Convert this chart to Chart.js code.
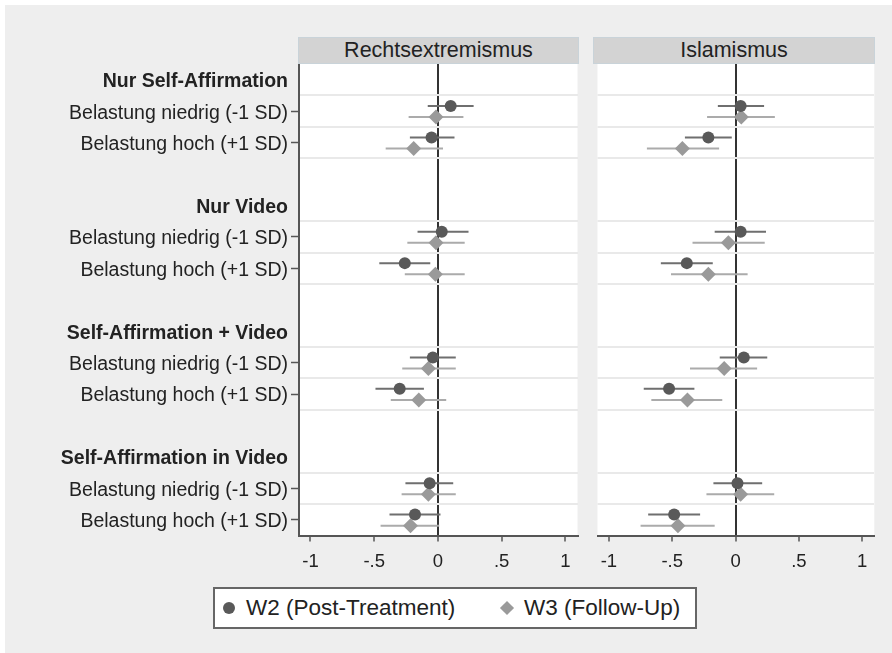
<!DOCTYPE html>
<html>
<head>
<meta charset="utf-8">
<script src="https://cdn.jsdelivr.net/npm/chart.js@4.4.1/dist/chart.umd.min.js"></script>
<style>
  html,body{margin:0;padding:0;background:#ffffff;}
  #frame{position:absolute;left:5px;top:5px;width:887px;height:648px;background:#eeeeee;}
  canvas{position:absolute;}
  .hdr{position:absolute;top:37px;height:25px;background:#d3d3d3;border:1px solid #c9d3d9;
       font-family:"Liberation Sans",Arial,sans-serif;font-size:21.5px;color:#222;text-align:center;line-height:25px;}
  #legend{position:absolute;left:213px;top:587px;width:480px;height:38px;background:#fff;border:2px solid #666;
       font-family:"Liberation Sans",Arial,sans-serif;font-size:22.5px;color:#222;}
  #legend span{position:absolute;top:6px;white-space:nowrap;}
  .dot{position:absolute;left:8px;top:13px;width:12px;height:12px;border-radius:50%;background:#595959;}
  .dia{position:absolute;left:287px;top:14px;width:10px;height:10px;background:#9a9a9a;transform:rotate(45deg);}
</style>
</head>
<body>
<div id="frame"></div>
<canvas id="c1" width="585" height="580" style="left:0;top:0;width:585px;height:580px;"></canvas>
<canvas id="c2" width="295" height="580" style="left:590px;top:0;width:295px;height:580px;"></canvas>
<div class="hdr" style="left:298px;width:279px;">Rechtsextremismus</div>
<div class="hdr" style="left:593px;width:280px;">Islamismus</div>
<div id="legend">
  <div class="dot"></div><span style="left:31px;">W2 (Post-Treatment)</span>
  <div class="dia"></div><span style="left:309px;">W3 (Follow-Up)</span>
</div>
<script>
// ---- data ----
const groups = ['Nur Self-Affirmation','Nur Video','Self-Affirmation + Video','Self-Affirmation in Video'];
const levels = ['Belastung niedrig (-1 SD)','Belastung hoch (+1 SD)'];
const panels = ['Rechtsextremismus','Islamismus'];
const seriesNames = ['W2 (Post-Treatment)','W3 (Follow-Up)'];
const xTickValues = [-1,-0.5,0,0.5,1];
const xTickLabels = ['-1','-.5','0','.5','1'];

// order: group x level (SA niedrig, SA hoch, Video niedrig, Video hoch, ...)
const rex_w2    = [0.10, -0.05, 0.03, -0.26, -0.04, -0.30, -0.065, -0.18];
const rex_w2_lo = [-0.08, -0.22, -0.16, -0.46, -0.22, -0.49, -0.255, -0.38];
const rex_w2_hi = [0.28, 0.13, 0.24, -0.06, 0.14, -0.11, 0.12, 0.02];
const rex_w3    = [-0.015, -0.19, -0.015, -0.02, -0.075, -0.15, -0.075, -0.215];
const rex_w3_lo = [-0.23, -0.41, -0.24, -0.26, -0.28, -0.37, -0.285, -0.45];
const rex_w3_hi = [0.20, 0.04, 0.21, 0.21, 0.14, 0.065, 0.14, 0.01];

const isl_w2    = [0.04, -0.215, 0.04, -0.385, 0.065, -0.525, 0.015, -0.485];
const isl_w2_lo = [-0.14, -0.40, -0.165, -0.59, -0.125, -0.725, -0.175, -0.69];
const isl_w2_hi = [0.225, -0.03, 0.24, -0.18, 0.25, -0.325, 0.21, -0.28];
const isl_w3    = [0.045, -0.42, -0.057, -0.215, -0.09, -0.38, 0.04, -0.455];
const isl_w3_lo = [-0.225, -0.70, -0.34, -0.51, -0.36, -0.665, -0.23, -0.75];
const isl_w3_hi = [0.31, -0.13, 0.23, 0.095, 0.17, -0.105, 0.305, -0.165];

// ---- layout helpers ----
const FONT = '"Liberation Sans", Arial, sans-serif';
const ROWS_PER_GROUP = 4; // heading, niedrig, hoch, blank
const rowLabel = {};
const headingRows = new Set();
const levelRows = [];
groups.forEach((g, gi) => {
  rowLabel[gi*ROWS_PER_GROUP] = g; headingRows.add(gi*ROWS_PER_GROUP);
  levels.forEach((l, li) => { const r = gi*ROWS_PER_GROUP + 1 + li; rowLabel[r] = l; levelRows.push(r); });
});
const labelRows = Object.keys(rowLabel).map(Number);
const boundaryRows = [];
groups.forEach((g, gi) => { [0.5, 1.5, 2.5].forEach(o => { const b = gi*ROWS_PER_GROUP + o; if (b < 14.5) boundaryRows.push(b); }); });
const OFF_W2 = -0.165, OFF_W3 = 0.19;

function pts(vals, off) { return vals.map((v, i) => ({x: v, y: levelRows[i] + off})); }
function ci(lo, hi, off) {
  const out = [];
  lo.forEach((v, i) => { out.push({x: v, y: levelRows[i] + off}); out.push({x: hi[i], y: levelRows[i] + off}); out.push({x: null, y: null}); });
  return out;
}

const bgPlugin = {
  id: 'bg',
  beforeDraw(chart) {
    const a = chart.chartArea, ctx = chart.ctx;
    ctx.save(); ctx.fillStyle = '#ffffff'; ctx.fillRect(a.left, a.top, a.right - a.left, a.bottom - a.top); ctx.restore();
  }
};

function makeChart(id, w2, w2lo, w2hi, w3, w3lo, w3hi, showY, padLeft, padRight) {
  return new Chart(document.getElementById(id), {
    type: 'scatter',
    data: {
      datasets: [
        {label: seriesNames[1] + ' CI', data: ci(w3lo, w3hi, OFF_W3), showLine: true, spanGaps: false,
         borderColor: '#ababab', borderWidth: 2, pointRadius: 0, order: 4},
        {label: seriesNames[0] + ' CI', data: ci(w2lo, w2hi, OFF_W2), showLine: true, spanGaps: false,
         borderColor: '#6f6f6f', borderWidth: 2, pointRadius: 0, order: 3},
        {label: seriesNames[1], data: pts(w3, OFF_W3), pointStyle: 'rectRot', pointRadius: 7.5,
         backgroundColor: '#9a9a9a', borderColor: '#9a9a9a', borderWidth: 0, order: 2},
        {label: seriesNames[0], data: pts(w2, OFF_W2), pointStyle: 'circle', pointRadius: 6,
         backgroundColor: '#595959', borderColor: '#595959', borderWidth: 0, order: 1}
      ]
    },
    options: {
      responsive: false, animation: false, events: [],
      layout: {padding: {top: 64, left: padLeft, right: padRight, bottom: 0}},
      plugins: {legend: {display: false}, tooltip: {enabled: false}},
      scales: {
        x: {
          type: 'linear', min: -1.09, max: 1.095,
          afterBuildTicks(s) { s.ticks = xTickValues.map(v => ({value: v})); },
          afterFit(s) { s.height = 44.5; },
          grid: {drawOnChartArea: true, color: c => (c.tick && c.tick.value === 0) ? '#333333' : 'rgba(0,0,0,0)',
                 lineWidth: 2, drawTicks: true, tickLength: 6, tickColor: '#555555', tickWidth: 1.5},
          border: {display: true, color: '#555555', width: 2},
          ticks: {callback: (v) => { const i = xTickValues.indexOf(v); return i >= 0 ? xTickLabels[i] : ''; },
                  font: {family: FONT, size: 18.5}, color: '#222222', padding: 9, maxRotation: 0, autoSkip: false}
        },
        y: {
          type: 'linear', min: -0.5, max: 14.5, reverse: true, display: showY,
          afterBuildTicks(s) { s.ticks = labelRows.map(v => ({value: v})); },
          afterFit(s) { s.width = showY ? 299 : 0; },
          grid: {drawOnChartArea: false, drawTicks: true, tickLength: 8,
                 tickColor: c => (c.tick && headingRows.has(c.tick.value)) ? 'rgba(0,0,0,0)' : '#555555', tickWidth: 1.5},
          border: {display: true, color: '#555555', width: 2},
          ticks: {autoSkip: false, padding: 3, color: '#222222', labelOffset: 2,
                  callback: (v) => rowLabel[v] || '',
                  font: c => ({family: FONT, size: 19.5, weight: (c.tick && headingRows.has(c.tick.value)) ? 'bold' : 'normal'})}
        },
        yg: {
          type: 'linear', min: -0.5, max: 14.5, reverse: true, position: 'right', display: true,
          afterBuildTicks(s) { s.ticks = boundaryRows.map(v => ({value: v})); },
          afterFit(s) { s.width = 0; },
          grid: {drawOnChartArea: true, drawTicks: false, color: '#e9e9e9', lineWidth: 2},
          border: {display: false},
          ticks: {display: false}
        }
      }
    },
    plugins: [bgPlugin]
  });
}

makeChart('c1', rex_w2, rex_w2_lo, rex_w2_hi, rex_w3, rex_w3_lo, rex_w3_hi, true, 0, 6.5);
makeChart('c2', isl_w2, isl_w2_lo, isl_w2_hi, isl_w3, isl_w3_lo, isl_w3_hi, false, 4, 10.7);
</script>
</body>
</html>
